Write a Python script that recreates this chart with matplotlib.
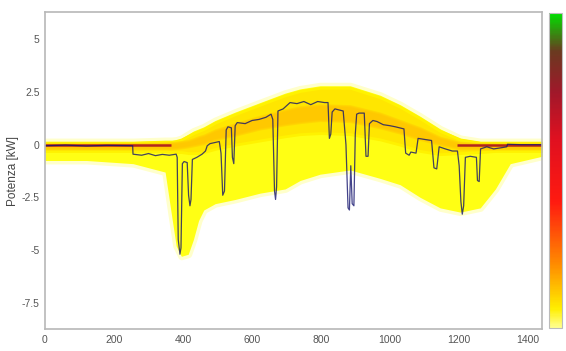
import numpy as np
import matplotlib
matplotlib.use('Agg')
import matplotlib.pyplot as plt
from matplotlib.colors import LinearSegmentedColormap, Normalize
from matplotlib.cm import ScalarMappable

plt.rcParams['font.family'] = ['Liberation Sans', 'DejaVu Sans']

# envelope of the daily power cloud (minute of day -> kW)
env_x = [0, 120, 255, 348, 368, 380, 395, 415, 430, 445, 460, 493, 551, 623, 696, 739, 797,
         884, 971, 1029, 1087, 1145, 1203, 1261, 1305, 1348, 1440]
cloud_top = [0.15, 0.15, 0.15, 0.2, 0.2, 0.22, 0.3, 0.5, 0.65, 0.75, 0.85, 1.15, 1.55, 2.0, 2.45, 2.65, 2.8,
             2.8, 2.35, 1.9, 1.35, 0.75, 0.3, 0.15, 0.15, 0.15, 0.15]
cloud_bottom = [-0.75, -0.75, -0.9, -1.3, -3.5, -4.8, -5.3, -5.2, -4.5, -3.6, -3.1, -2.8, -2.6, -2.3, -2.1, -1.7, -1.4,
                -1.2, -1.6, -1.9, -2.5, -3.0, -3.2, -3.0, -2.1, -0.9, -0.55]
gold_top = [0.1, 0.1, 0.1, 0.15, 0.15, 0.18, 0.25, 0.42, 0.55, 0.65, 0.75, 1.05, 1.45, 1.9, 2.35, 2.55, 2.7,
            2.7, 2.25, 1.8, 1.25, 0.65, 0.25, 0.1, 0.1, 0.1, 0.1]
gold_bottom = [-0.3, -0.3, -0.3, -0.3, -0.35, -0.35, -0.35, -0.4, -0.4, -0.4, -0.35, -0.2, 0.0, 0.2, 0.4, 0.5, 0.55,
               0.5, 0.25, 0.0, -0.3, -0.45, -0.4, -0.35, -0.3, -0.3, -0.3]
core_top = [0.03, 0.03, 0.05, 0.08, 0.1, 0.12, 0.15, 0.2, 0.28, 0.38, 0.45, 0.7, 1.0, 1.35, 1.65, 1.8, 1.9,
            1.85, 1.5, 1.15, 0.8, 0.35, 0.1, 0.05, 0.03, 0.03, 0.03]
core_bottom = [-0.2, -0.2, -0.2, -0.2, -0.2, -0.18, -0.15, -0.1, -0.05, 0.0, 0.05, 0.25, 0.45, 0.75, 0.95, 1.05, 1.15,
               1.1, 0.8, 0.55, 0.25, 0.0, -0.2, -0.2, -0.2, -0.2, -0.2]

# night-time density ridge at zero
night_left_x = [0, 365]
night_right_x = [1195, 1440]
night_level = -0.03

# single day trace
trace_x = [0, 60, 120, 180, 254, 255, 280, 300, 320, 340, 360, 380,
           383, 386, 391, 394, 398, 403, 412,
           416, 420, 423, 427, 440, 455, 465, 470, 478, 505,
           510, 515, 520, 525, 530, 540,
           543, 547, 551, 557, 580, 600, 620, 640, 655,
           660, 665, 668, 671, 675, 690, 710, 730, 750, 770, 790, 810, 820,
           824, 828, 832, 840, 864,
           872, 878, 882, 886, 890, 895, 899, 903, 910, 925,
           930, 936, 940, 950, 962, 980, 1000, 1015, 1040,
           1045, 1055, 1060, 1075, 1081, 1100, 1120,
           1127, 1135, 1142, 1160, 1180, 1195,
           1200, 1205, 1209, 1213, 1218, 1232, 1250,
           1253, 1258, 1262, 1280, 1300, 1320, 1338,
           1340, 1380, 1440]
trace_y = [-0.05, -0.02, -0.06, -0.03, -0.05, -0.45, -0.5, -0.42, -0.52, -0.46, -0.5, -0.45,
           -0.6, -4.5, -5.2, -4.9, -0.9, -0.8, -0.85,
           -2.4, -2.9, -2.6, -0.7, -0.6, -0.45, -0.3, -0.05, 0.05, 0.15,
           -0.4, -2.4, -2.2, 0.7, 0.85, 0.8,
           -0.6, -0.9, 0.9, 1.05, 1.0, 1.15, 1.2, 1.3, 1.45,
           1.2, -2.2, -2.6, -2.0, 1.6, 1.7, 2.0, 1.95, 2.05, 1.9, 2.05, 2.0, 2.0,
           0.3, 0.5, 1.55, 1.7, 1.6,
           0.0, -3.0, -3.1, -1.0, -2.8, -2.9, 0.5, 1.45, 1.5, 1.5,
           -0.55, -0.55, 1.0, 1.15, 1.1, 0.95, 0.9, 0.85, 0.75,
           -0.4, -0.5, -0.35, -0.4, 0.3, 0.25, 0.2,
           -1.1, -1.15, -0.1, -0.2, -0.3, -0.3,
           -1.0, -2.7, -3.3, -2.9, -0.6, -0.55, -0.6,
           -1.7, -1.75, -0.2, -0.1, -0.2, -0.15, -0.1,
           0.02, 0.0, 0.0]

cmap = LinearSegmentedColormap.from_list('density', [
    (0.0, '#ffff90'), (0.06, '#ffee00'), (0.2, '#ff8c00'), (0.4, '#ff1a10'),
    (0.6, '#e01020'), (0.75, '#a0182a'), (0.88, '#6a3a20'), (1.0, '#00e000')])

fig = plt.figure(figsize=(5.66, 3.51), dpi=100)
ax = fig.add_axes([45 / 566, 1 - 329 / 351, 497 / 566, 317 / 351])

ax.fill_between(env_x, cloud_bottom, cloud_top, color='#ffffa0', lw=5, edgecolor='#ffffcc')
ax.fill_between(env_x, cloud_bottom, cloud_top, color='#ffff14', lw=0)
ax.fill_between(env_x, gold_bottom, gold_top, color='#ffe600', lw=2, edgecolor='#fff200')
ax.fill_between(env_x, core_bottom, core_top, color='#ffbc00', alpha=0.7, lw=1.5, edgecolor='#ffd000')

ax.plot(night_left_x, [night_level] * 2, color='#b3261c', lw=1.8, solid_capstyle='butt')
ax.plot(night_right_x, [night_level] * 2, color='#b3261c', lw=1.8, solid_capstyle='butt')

ax.plot(trace_x, trace_y, color='#14146e', alpha=0.8, lw=0.9)

ax.set_xlim(0, 1440)
ax.set_ylim(-8.75, 6.3)
ax.set_xticks([0, 200, 400, 600, 800, 1000, 1200, 1400])
ax.set_yticks([-7.5, -5, -2.5, 0, 2.5, 5])
ax.set_yticklabels(['-7.5', '-5', '-2.5', '0', '2.5', '5'])
ax.tick_params(length=0, labelsize=7.5, colors='#555555', pad=4)
ax.set_ylabel('Potenza [kW]', fontsize=8.5, color='#444444')
ax.yaxis.set_label_coords(-0.052, 0.5)
for s in ax.spines.values():
    s.set_color('#b8b8b8')
    s.set_linewidth(1.2)

cax = fig.add_axes([549 / 566, 1 - 328 / 351, 13 / 566, 315 / 351])
cb = fig.colorbar(ScalarMappable(norm=Normalize(0, 1), cmap=cmap), cax=cax)
cb.set_ticks([])
cb.outline.set_edgecolor('#bbbbbb')

fig.savefig('out.png', dpi=100)
